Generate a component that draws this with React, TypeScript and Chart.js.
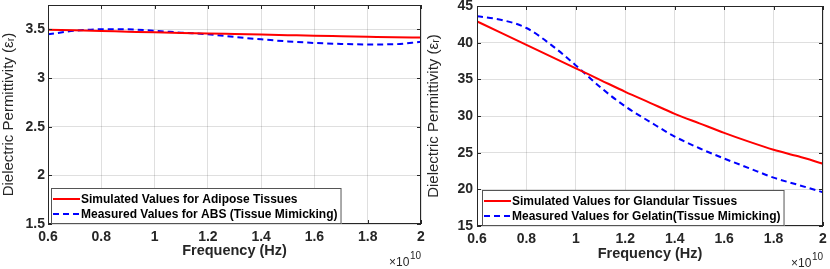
import React, { useEffect, useRef } from "react";
import { Chart, registerables } from "chart.js";

Chart.register(...registerables);

// Frequency in units of 1e10 Hz
const frequency = [0.6, 0.7, 0.8, 0.9, 1.0, 1.1, 1.2, 1.3, 1.4, 1.5, 1.6, 1.7, 1.8, 1.9, 2.0];

// Left panel: adipose vs ABS
const simulatedAdipose = [3.497, 3.490, 3.483, 3.476, 3.469, 3.463, 3.458, 3.452, 3.446, 3.440, 3.434, 3.429, 3.424, 3.419, 3.415];
const measuredABS = [3.449, 3.485, 3.500, 3.500, 3.485, 3.466, 3.449, 3.422, 3.397, 3.376, 3.360, 3.350, 3.345, 3.347, 3.372];

// Right panel: glandular vs gelatin
const simulatedGlandular = [42.9, 41.3, 39.7, 38.1, 36.5, 34.9, 33.3, 31.8, 30.3, 29.0, 27.7, 26.5, 25.4, 24.5, 23.5];
const measuredGelatin = [43.6, 43.1, 42.0, 39.7, 36.9, 33.9, 31.3, 29.2, 27.2, 25.6, 24.2, 22.9, 21.6, 20.6, 19.6];

const xTicks = [0.6, 0.8, 1.0, 1.2, 1.4, 1.6, 1.8, 2.0];
const leftYTicks = [1.5, 2, 2.5, 3, 3.5];
const rightYTicks = [15, 20, 25, 30, 35, 40, 45];

const leftLabels = ["Simulated Values for Adipose Tissues", "Measured Values for ABS (Tissue Mimicking)"];
const rightLabels = ["Simulated Values for Glandular Tissues", "Measured Values for Gelatin(Tissue Mimicking)"];

const xTitle = "Frequency (Hz)";
const yTitle = "Dielectric Permittivity (εᵣ)";

const FONT = '"Liberation Sans", Arial, Helvetica, sans-serif';
const AXIS_COLOR = "#262626";
const GRID_COLOR = "rgba(38,38,38,0.15)";

const fmt = (v: number) => String(Math.round(v * 10) / 10);

const matlabPlugin = {
  id: "matlabDecor",
  afterDraw(chart: any, _args: any, opts: any) {
    const { ctx, chartArea: a } = chart;
    ctx.save();
    // inside tick marks
    ctx.strokeStyle = AXIS_COLOR;
    ctx.lineWidth = 1;
    const tl = 4;
    ctx.beginPath();
    chart.scales.x.ticks.forEach((t: any) => {
      const px = Math.round(chart.scales.x.getPixelForValue(t.value)) + 0.5;
      ctx.moveTo(px, a.bottom);
      ctx.lineTo(px, a.bottom - tl);
      ctx.moveTo(px, a.top);
      ctx.lineTo(px, a.top + tl);
    });
    chart.scales.y.ticks.forEach((t: any) => {
      const py = Math.round(chart.scales.y.getPixelForValue(t.value)) + 0.5;
      ctx.moveTo(a.left, py);
      ctx.lineTo(a.left + tl, py);
      ctx.moveTo(a.right, py);
      ctx.lineTo(a.right - tl, py);
    });
    ctx.stroke();
    // box
    ctx.strokeRect(a.left + 0.5, a.top + 0.5, a.right - a.left - 1, a.bottom - a.top - 1);

    // legend
    const ds = chart.data.datasets;
    ctx.font = `bold 12px ${FONT}`;
    const textOffset = 30;
    let maxW = 0;
    ds.forEach((d: any) => {
      maxW = Math.max(maxW, ctx.measureText(d.label).width);
    });
    const bx = a.left + opts.legendLeft;
    const bw = textOffset + maxW + 4;
    const bh = 36;
    const by = a.bottom - bh;
    ctx.fillStyle = "#ffffff";
    ctx.fillRect(bx, by, bw, bh);
    ctx.strokeStyle = "#555555";
    ctx.strokeRect(bx + 0.5, by + 0.5, bw - 1, bh - 1);
    ds.forEach((d: any, i: number) => {
      const cy = by + 11 + i * 15;
      ctx.strokeStyle = d.borderColor;
      ctx.lineWidth = 2;
      ctx.setLineDash(d.borderDash || []);
      ctx.beginPath();
      ctx.moveTo(bx + 2, cy);
      ctx.lineTo(bx + 29, cy);
      ctx.stroke();
      ctx.setLineDash([]);
      ctx.fillStyle = "#000000";
      ctx.textAlign = "left";
      ctx.textBaseline = "middle";
      ctx.fillText(d.label, bx + textOffset, cy + 0.5);
    });

    // exponent label x10^10
    ctx.fillStyle = AXIS_COLOR;
    ctx.textBaseline = "alphabetic";
    ctx.textAlign = "right";
    ctx.font = `10px ${FONT}`;
    const supW = ctx.measureText("10").width;
    ctx.fillText("10", a.right, opts.expY - 7);
    ctx.font = `12px ${FONT}`;
    ctx.fillText("×10", a.right - supW - 0.5, opts.expY);
    ctx.restore();
  },
};

type PanelCfg = {
  labels: string[];
  sim: number[];
  meas: number[];
  yMin: number;
  yMax: number;
  yTicks: number[];
  width: number;
  padTop: number;
  padRight: number;
  yWidth: number;
  yTickPad: number;
  xHeight: number;
  xTitlePad: number;
  legendLeft: number;
  expY: number;
};

function Panel({ cfg, left }: { cfg: PanelCfg; left: number }) {
  const ref = useRef<HTMLCanvasElement | null>(null);
  useEffect(() => {
    if (!ref.current) return;
    const chart = new Chart(ref.current, {
      type: "line",
      data: {
        datasets: [
          {
            label: cfg.labels[0],
            data: frequency.map((f, i) => ({ x: f, y: cfg.sim[i] })),
            borderColor: "#ff0000",
            backgroundColor: "#ff0000",
            borderWidth: 2,
            pointRadius: 0,
            cubicInterpolationMode: "monotone",
            fill: false,
          },
          {
            label: cfg.labels[1],
            data: frequency.map((f, i) => ({ x: f, y: cfg.meas[i] })),
            borderColor: "#0000ff",
            backgroundColor: "#0000ff",
            borderWidth: 2,
            borderDash: [6, 4],
            pointRadius: 0,
            cubicInterpolationMode: "monotone",
            fill: false,
          },
        ],
      },
      options: {
        responsive: false,
        animation: false,
        devicePixelRatio: 1,
        events: [],
        layout: { padding: { top: cfg.padTop, right: cfg.padRight, left: 0, bottom: 0 } },
        plugins: {
          legend: { display: false },
          tooltip: { enabled: false },
          matlabDecor: { legendLeft: cfg.legendLeft, expY: cfg.expY },
        } as any,
        scales: {
          x: {
            type: "linear",
            min: 0.6,
            max: 2,
            afterBuildTicks: (s: any) => {
              s.ticks = xTicks.map((v) => ({ value: v }));
            },
            afterFit: (s: any) => {
              s.height = cfg.xHeight;
              s.paddingLeft = 0;
              s.paddingRight = 0;
            },
            ticks: {
              autoSkip: false,
              maxRotation: 0,
              padding: 5,
              color: AXIS_COLOR,
              font: { family: FONT, size: 14, weight: "bold" },
              callback: (v: any) => fmt(Number(v)),
            },
            grid: { color: GRID_COLOR, drawTicks: false },
            border: { display: false },
            title: {
              display: true,
              text: xTitle,
              color: AXIS_COLOR,
              font: { family: FONT, size: 14.5, weight: "bold" },
              padding: { top: 0, bottom: cfg.xTitlePad },
            },
          },
          y: {
            type: "linear",
            min: cfg.yMin,
            max: cfg.yMax,
            afterBuildTicks: (s: any) => {
              s.ticks = cfg.yTicks.map((v) => ({ value: v }));
            },
            afterFit: (s: any) => {
              s.width = cfg.yWidth;
              s.paddingTop = 0;
              s.paddingBottom = 0;
            },
            ticks: {
              padding: cfg.yTickPad,
              color: AXIS_COLOR,
              font: { family: FONT, size: 14, weight: "bold" },
              callback: (v: any) => fmt(Number(v)),
            },
            grid: { color: GRID_COLOR, drawTicks: false },
            border: { display: false },
            title: {
              display: true,
              text: yTitle,
              color: AXIS_COLOR,
              font: { family: FONT, size: 15 },
              padding: { top: 0, bottom: 0 },
            },
          },
        },
      },
      plugins: [matlabPlugin],
    } as any);
    return () => chart.destroy();
  }, []);
  return (
    <canvas
      ref={ref}
      width={cfg.width}
      height={269}
      style={{ position: "absolute", left, top: 0, width: cfg.width, height: 269 }}
    />
  );
}

const leftCfg: PanelCfg = {
  labels: leftLabels,
  sim: simulatedAdipose,
  meas: measuredABS,
  yMin: 1.5,
  yMax: 3.75,
  yTicks: leftYTicks,
  width: 425,
  padTop: 5,
  padRight: 4,
  yWidth: 48,
  yTickPad: 3,
  xHeight: 45,
  xTitlePad: 9,
  legendLeft: 3,
  expY: 266,
};

const rightCfg: PanelCfg = {
  labels: rightLabels,
  sim: simulatedGlandular,
  meas: measuredGelatin,
  yMin: 15,
  yMax: 45,
  yTicks: rightYTicks,
  width: 405,
  padTop: 6,
  padRight: 7,
  yWidth: 52,
  yTickPad: 4,
  xHeight: 43,
  xTitlePad: 6,
  legendLeft: 5,
  expY: 267,
};

export default function App() {
  return (
    <div style={{ position: "absolute", left: 0, top: 0, width: 830, height: 269, background: "#ffffff", overflow: "hidden" }}>
      <Panel cfg={leftCfg} left={0} />
      <Panel cfg={rightCfg} left={425} />
    </div>
  );
}
